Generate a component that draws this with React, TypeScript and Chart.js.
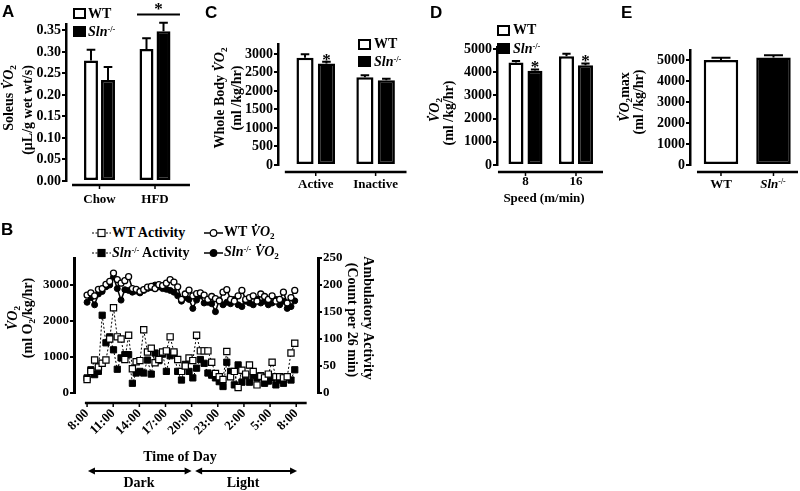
import React, { useEffect, useRef } from 'react';
import { Chart, registerables } from 'chart.js';
Chart.register(...registerables);

const SERIF = '"Liberation Serif", "Times New Roman", serif';
const SANS = '"Liberation Sans", Arial, sans-serif';

// ---------- Panel A : Soleus VO2 ----------
const aGroups = ['Chow', 'HFD'];
const aWT = [0.28, 0.307];
const aWTErr = [0.025, 0.025];
const aSln = [0.235, 0.348];
const aSlnErr = [0.03, 0.02];
const aYTicks = [0, 0.05, 0.1, 0.15, 0.2, 0.25, 0.3, 0.35];

// ---------- Panel C : Whole body VO2 ----------
const cGroups = ['Active', 'Inactive'];
const cWT = [2900, 2370];
const cWTErr = [90, 55];
const cSln = [2740, 2290];
const cSlnErr = [50, 40];
const cYTicks = [0, 500, 1000, 1500, 2000, 2500, 3000];

// ---------- Panel D : VO2 by speed ----------
const dGroups = ['8', '16'];
const dWT = [4420, 4690];
const dWTErr = [70, 110];
const dSln = [4065, 4300];
const dSlnErr = [55, 80];
const dYTicks = [0, 1000, 2000, 3000, 4000, 5000];

// ---------- Panel E : VO2 max ----------
const eGroups = ['WT', 'Sln-/-'];
const eValues = [5000, 5115];
const eErr = [110, 110];
const eYTicks = [0, 1000, 2000, 3000, 4000, 5000];

// ---------- Panel B : time course ----------
const bSampleMinutes = 26;
const bTickHours = [0, 3, 6, 9, 12, 15, 18, 21, 24];
const bTickLabels = ['8:00', '11:00', '14:00', '17:00', '20:00', '23:00', '2:00', '5:00', '8:00'];
const bLeftTicks = [0, 1000, 2000, 3000];
const bRightTicks = [0, 50, 100, 150, 200, 250];
const bWTVO2 = [2720, 2780, 2700, 2880, 2900, 3020, 3100, 3330, 3150, 3050, 3120, 3230, 2900, 2880, 2820, 2870,
  2940, 2960, 2900, 3010, 2980, 3050, 3150, 3080, 2950, 2600, 2750, 2860, 2700, 2760, 2780, 2720, 2600, 2680,
  2620, 2560, 2800, 2870, 2600, 2550, 2700, 2850, 2600, 2650, 2700, 2550, 2750, 2680, 2600, 2700, 2550, 2600,
  2800, 2500, 2650, 2850];
const bSlnVO2 = [2520, 2650, 2450, 2750, 2820, 2950, 3000, 3220, 2900, 2580, 2870, 2850, 2800, 2830, 2780, 2850,
  2900, 2930, 3000, 2950, 2900, 2880, 2850, 2800, 2700, 2550, 2650, 2600, 2350, 2580, 2700, 2500, 2520, 2480,
  2260, 2580, 2450, 2520, 2480, 2600, 2450, 2400, 2550, 2500, 2450, 2600, 2500, 2550, 2450, 2500, 2600, 2450,
  2550, 2350, 2400, 2560];
const bWTAct = [25, 40, 61, 48, 55, 61, 100, 158, 104, 100, 62, 107, 45, 58, 60, 117, 76, 83, 56, 62, 76, 78, 104,
  76, 62, 40, 50, 65, 60, 107, 78, 78, 78, 57, 36, 30, 25, 77, 30, 40, 10, 42, 35, 52, 40, 15, 31, 28, 35, 57, 30,
  30, 28, 30, 74, 92];
const bSlnAct = [28, 43, 34, 40, 144, 93, 104, 80, 44, 65, 71, 71, 18, 37, 40, 37, 61, 35, 74, 60, 72, 40, 69, 74,
  40, 24, 53, 40, 28, 46, 62, 55, 37, 33, 28, 21, 12, 57, 40, 15, 52, 20, 32, 20, 32, 28, 32, 18, 22, 28, 15, 24,
  18, 30, 24, 43];

const tickFont = { family: SERIF, size: 13, weight: 'bold' as const };
const yTickFont = { family: SERIF, size: 14, weight: 'bold' as const };

function makeDeco(p: any) {
  return {
    id: 'deco',
    afterDatasetsDraw(chart: any) {
      const ctx = chart.ctx;
      const xs = chart.scales.x;
      const ys = chart.scales.y;
      const area = chart.chartArea;
      ctx.save();
      ctx.strokeStyle = '#000';
      ctx.fillStyle = '#000';
      const tops: number[][] = [];
      p.datasets.forEach((d: any, di: number) => {
        const meta = chart.getDatasetMeta(di);
        tops[di] = [];
        meta.data.forEach((el: any, j: number) => {
          const pr = el.getProps(['x', 'y', 'width'], true);
          const yTop = ys.getPixelForValue(d.values[j] + d.errors[j]);
          tops[di][j] = yTop;
          const cap = pr.width * p.capRatio;
          ctx.lineWidth = 2;
          ctx.beginPath();
          ctx.moveTo(pr.x, pr.y);
          ctx.lineTo(pr.x, yTop);
          ctx.moveTo(pr.x - cap / 2, yTop);
          ctx.lineTo(pr.x + cap / 2, yTop);
          ctx.stroke();
        });
      });
      ctx.font = `bold 17px ${SERIF}`;
      ctx.textAlign = 'center';
      ctx.textBaseline = 'alphabetic';
      (p.stars || []).forEach((s: any) => {
        const el = chart.getDatasetMeta(s.ds).data[s.idx];
        ctx.fillText('*', el.x, tops[s.ds][s.idx] + 3);
      });
      if (p.sig) {
        const y = ys.getPixelForValue(p.sig.y);
        const x1 = xs.getPixelForValue(p.sig.from);
        const x2 = xs.getPixelForValue(p.sig.to);
        ctx.lineWidth = 2;
        ctx.beginPath();
        ctx.moveTo(x1, y);
        ctx.lineTo(x2, y);
        ctx.stroke();
        ctx.fillText('*', (x1 + x2) / 2, y - 1);
      }
      const ly = area.bottom + p.xLine.offset;
      ctx.lineWidth = 2.5;
      ctx.beginPath();
      ctx.moveTo(xs.getPixelForValue(p.xLine.from), ly);
      ctx.lineTo(xs.getPixelForValue(p.xLine.to), ly);
      ctx.stroke();
      ctx.lineWidth = 1.5;
      p.groups.forEach((_: any, i: number) => {
        const px = xs.getPixelForValue(i + 1);
        ctx.beginPath();
        ctx.moveTo(px, ly);
        ctx.lineTo(px, ly + 4);
        ctx.stroke();
      });
      ctx.restore();
    },
  };
}

function makeBarChart(canvas: HTMLCanvasElement, p: any) {
  const [cl, ct, cw, ch] = p.canvas;
  const [al, at, ar, ab] = p.area;
  const padding = {
    left: al - cl - p.yW,
    top: at - ct,
    right: cl + cw - ar,
    bottom: ct + ch - ab - p.xH,
  };
  return new Chart(canvas, {
    type: 'bar',
    data: {
      datasets: p.datasets.map((d: any) => ({
        data: d.values.map((v: number, i: number) => ({ x: i + 1, y: v })),
        backgroundColor: d.fill,
        borderColor: '#000',
        borderWidth: 2.5,
        borderSkipped: false,
        categoryPercentage: p.catPct,
        barPercentage: p.barPct,
      })),
    },
    options: {
      responsive: false,
      maintainAspectRatio: false,
      animation: false,
      layout: { padding },
      plugins: { legend: { display: false }, tooltip: { enabled: false } },
      scales: {
        x: {
          type: 'linear',
          min: p.xMin,
          max: p.xMax,
          offset: false,
          afterBuildTicks: (s: any) => {
            s.ticks = p.groups.map((_: any, i: number) => ({ value: i + 1 }));
          },
          afterFit: (s: any) => {
            s.height = p.xH;
          },
          ticks: {
            display: p.showXLabels,
            autoSkip: false,
            maxRotation: 0,
            minRotation: 0,
            padding: p.labelPad,
            color: '#000',
            font: tickFont,
            callback: (_v: any, i: number) => p.groups[i],
          },
          grid: { display: false, drawTicks: false, offset: false },
          border: { display: false },
        },
        y: {
          min: 0,
          max: p.yMax,
          afterBuildTicks: (s: any) => {
            s.ticks = p.yTicks.map((v: number) => ({ value: v }));
          },
          afterFit: (s: any) => {
            s.width = p.yW;
          },
          ticks: {
            padding: 1,
            color: '#000',
            font: yTickFont,
            callback: (v: any) => p.yFmt(v),
          },
          grid: { display: true, drawOnChartArea: false, drawTicks: true, tickLength: 4, lineWidth: 2, color: '#000' },
          border: { display: true, width: 2.5, color: '#000' },
        },
      },
    },
    plugins: [makeDeco(p)],
  } as any);
}

const bDeco = {
  id: 'bdeco',
  afterDatasetsDraw(chart: any) {
    const ctx = chart.ctx;
    const xs = chart.scales.x;
    const area = chart.chartArea;
    ctx.save();
    ctx.strokeStyle = '#000';
    ctx.fillStyle = '#000';
    const ly = area.bottom + 10;
    ctx.lineWidth = 2.5;
    ctx.beginPath();
    ctx.moveTo(xs.getPixelForValue(-0.25), ly);
    ctx.lineTo(xs.getPixelForValue(25.2), ly);
    ctx.stroke();
    ctx.lineWidth = 1.5;
    bTickHours.forEach((h) => {
      const px = xs.getPixelForValue(h);
      ctx.beginPath();
      ctx.moveTo(px, ly);
      ctx.lineTo(px, ly + 4);
      ctx.stroke();
    });
    const arrow = (h1: number, h2: number, y: number) => {
      const x1 = xs.getPixelForValue(h1);
      const x2 = xs.getPixelForValue(h2);
      ctx.lineWidth = 1.8;
      ctx.beginPath();
      ctx.moveTo(x1 + 4, y);
      ctx.lineTo(x2 - 4, y);
      ctx.stroke();
      ctx.beginPath();
      ctx.moveTo(x1, y);
      ctx.lineTo(x1 + 7, y - 3.5);
      ctx.lineTo(x1 + 7, y + 3.5);
      ctx.closePath();
      ctx.fill();
      ctx.beginPath();
      ctx.moveTo(x2, y);
      ctx.lineTo(x2 - 7, y - 3.5);
      ctx.lineTo(x2 - 7, y + 3.5);
      ctx.closePath();
      ctx.fill();
    };
    const ay = area.bottom + 78;
    arrow(0.1, 12.0, ay);
    arrow(12.4, 24.1, ay);
    ctx.restore();
  },
};

function makeTimeChart(canvas: HTMLCanvasElement) {
  const hours = bWTVO2.map((_, i) => (i * bSampleMinutes) / 60);
  const pts = (arr: number[]) => arr.map((v, i) => ({ x: hours[i], y: v }));
  const canvasRect = [0, 240, 420, 251];
  const area = [74, 258, 318, 393];
  const yW = 40;
  const y2W = 30;
  const xH = 60;
  const padding = {
    left: area[0] - canvasRect[0] - yW,
    top: area[1] - canvasRect[1],
    right: canvasRect[0] + canvasRect[2] - area[2] - y2W,
    bottom: canvasRect[1] + canvasRect[3] - area[3] - xH,
  };
  return new Chart(canvas, {
    type: 'line',
    data: {
      datasets: [
        {
          label: 'WT VO2', data: pts(bWTVO2), yAxisID: 'y', borderColor: '#000', borderWidth: 1.5,
          pointStyle: 'circle', pointRadius: 3, pointBackgroundColor: '#fff', pointBorderColor: '#000', pointBorderWidth: 1.3,
        },
        {
          label: 'Sln VO2', data: pts(bSlnVO2), yAxisID: 'y', borderColor: '#000', borderWidth: 1.5,
          pointStyle: 'circle', pointRadius: 3, pointBackgroundColor: '#000', pointBorderColor: '#000', pointBorderWidth: 1,
        },
        {
          label: 'WT Activity', data: pts(bWTAct), yAxisID: 'y2', borderColor: '#000', borderWidth: 1, borderDash: [2, 2],
          pointStyle: 'rect', pointRadius: 4.4, pointBackgroundColor: '#fff', pointBorderColor: '#000', pointBorderWidth: 1.2,
        },
        {
          label: 'Sln Activity', data: pts(bSlnAct), yAxisID: 'y2', borderColor: '#000', borderWidth: 1, borderDash: [2, 2],
          pointStyle: 'rect', pointRadius: 4.4, pointBackgroundColor: '#000', pointBorderColor: '#000', pointBorderWidth: 1,
        },
      ],
    },
    options: {
      responsive: false,
      maintainAspectRatio: false,
      animation: false,
      layout: { padding },
      plugins: { legend: { display: false }, tooltip: { enabled: false } },
      scales: {
        x: {
          type: 'linear',
          min: -1.5,
          max: 26.5,
          afterBuildTicks: (s: any) => {
            s.ticks = bTickHours.map((v) => ({ value: v }));
          },
          afterFit: (s: any) => {
            s.height = xH;
          },
          ticks: {
            autoSkip: false,
            maxRotation: 45,
            minRotation: 45,
            padding: 13,
            color: '#000',
            font: tickFont,
            callback: (_v: any, i: number) => bTickLabels[i],
          },
          grid: { display: false, drawTicks: false },
          border: { display: false },
        },
        y: {
          position: 'left',
          min: 0,
          max: 3750,
          afterBuildTicks: (s: any) => {
            s.ticks = bLeftTicks.map((v) => ({ value: v }));
          },
          afterFit: (s: any) => {
            s.width = yW;
          },
          ticks: { padding: 1, color: '#000', font: tickFont, callback: (v: any) => String(v) },
          grid: { display: true, drawOnChartArea: false, drawTicks: true, tickLength: 4, lineWidth: 2, color: '#000' },
          border: { display: true, width: 3, color: '#000' },
        },
        y2: {
          position: 'right',
          min: 0,
          max: 250,
          afterBuildTicks: (s: any) => {
            s.ticks = bRightTicks.map((v) => ({ value: v }));
          },
          afterFit: (s: any) => {
            s.width = y2W;
          },
          ticks: { padding: 1, color: '#000', font: tickFont, callback: (v: any) => String(v) },
          grid: { display: true, drawOnChartArea: false, drawTicks: true, tickLength: 4, lineWidth: 2, color: '#000' },
          border: { display: true, width: 3, color: '#000' },
        },
      },
    },
    plugins: [bDeco],
  } as any);
}

const panelA = {
  canvas: [0, 0, 200, 210], area: [66, 24, 190, 181], yW: 40, xH: 28, labelPad: 11, showXLabels: true,
  xMin: 0.3964, xMax: 2.6306, yMax: 0.365, yTicks: aYTicks, yFmt: (v: number) => v.toFixed(2), groups: aGroups,
  datasets: [
    { values: aWT, errors: aWTErr, fill: '#fff' },
    { values: aSln, errors: aSlnErr, fill: '#000' },
  ],
  catPct: 0.613, barPct: 0.82, capRatio: 0.62,
  xLine: { offset: 4, from: 0.505, to: 2.63 },
  sig: { from: 1.676, to: 2.45, y: 0.387 },
  stars: [],
};
const panelC = {
  canvas: [200, 0, 210, 210], area: [278, 44, 410, 165], yW: 40, xH: 28, labelPad: 12, showXLabels: true,
  xMin: 0.37, xMax: 2.516, yMax: 3270, yTicks: cYTicks, yFmt: (v: number) => String(v), groups: cGroups,
  datasets: [
    { values: cWT, errors: cWTErr, fill: '#fff' },
    { values: cSln, errors: cSlnErr, fill: '#000' },
  ],
  catPct: 0.715, barPct: 0.8, capRatio: 0.5,
  xLine: { offset: 7, from: 0.484, to: 2.516 },
  stars: [{ ds: 1, idx: 0 }],
};
const panelD = {
  canvas: [410, 0, 200, 210], area: [497, 47, 603, 165], yW: 40, xH: 28, labelPad: 9, showXLabels: true,
  xMin: 0.436, xMax: 2.535, yMax: 5090, yTicks: dYTicks, yFmt: (v: number) => String(v), groups: dGroups,
  datasets: [
    { values: dWT, errors: dWTErr, fill: '#fff' },
    { values: dSln, errors: dSlnErr, fill: '#000' },
  ],
  catPct: 0.752, barPct: 0.79, capRatio: 0.55,
  xLine: { offset: 7, from: 0.455, to: 2.535 },
  stars: [{ ds: 1, idx: 0 }, { ds: 1, idx: 1 }],
};
const panelE = {
  canvas: [600, 0, 200, 210], area: [690, 50, 798, 165], yW: 40, xH: 28, labelPad: 9, showXLabels: false,
  xMin: 0.41, xMax: 2.467, yMax: 5475, yTicks: eYTicks, yFmt: (v: number) => String(v), groups: eGroups,
  datasets: [{ values: eValues, errors: eErr, fill: ['#fff', '#000'] }],
  catPct: 0.73, barPct: 0.9, capRatio: 0.55,
  xLine: { offset: 7, from: 0.543, to: 2.467 },
  stars: [],
};

const Txt = ({ x, y, rot = 0, size = 14, left = false, family = SERIF, children }: any) => (
  <div
    style={{
      position: 'absolute',
      left: x,
      top: y,
      transform: `translate(${left ? '0' : '-50%'}, -50%) rotate(${rot}deg)`,
      fontSize: size,
      fontFamily: family,
      fontWeight: 'bold',
      whiteSpace: 'nowrap',
      lineHeight: 1,
    }}
  >
    {children}
  </div>
);

const VO2 = () => (
  <span>
    <i>V&#x307;O</i>
    <sub style={{ fontSize: '0.65em', verticalAlign: '-0.25em' }}>2</sub>
  </span>
);
const Sln = () => (
  <span>
    <i>Sln</i>
    <sup style={{ fontSize: '0.6em', verticalAlign: '0.5em' }}>-/-</sup>
  </span>
);

const Box = ({ x, y, filled }: any) => (
  <div
    style={{
      position: 'absolute', left: x, top: y, width: 13, height: 11, boxSizing: 'border-box',
      border: '2.5px solid #000', background: filled ? '#000' : '#fff',
    }}
  />
);

const Marker = ({ x, y, shape, filled, dashed }: any) => (
  <svg style={{ position: 'absolute', left: x, top: y - 5 }} width={19} height={10}>
    <line x1={0} y1={5} x2={19} y2={5} stroke="#000" strokeWidth={dashed ? 1 : 1.5} strokeDasharray={dashed ? '2,1.5' : undefined} />
    {shape === 'rect' ? (
      <rect x={6} y={1.5} width={7} height={7} fill={filled ? '#000' : '#fff'} stroke="#000" strokeWidth={1.2} />
    ) : (
      <circle cx={9.5} cy={5} r={3.3} fill={filled ? '#000' : '#fff'} stroke="#000" strokeWidth={1.2} />
    )}
  </svg>
);

const cv = (r: number[]) => ({ position: 'absolute' as const, left: r[0], top: r[1], width: r[2], height: r[3] });

export default function App() {
  const refA = useRef<HTMLCanvasElement>(null);
  const refB = useRef<HTMLCanvasElement>(null);
  const refC = useRef<HTMLCanvasElement>(null);
  const refD = useRef<HTMLCanvasElement>(null);
  const refE = useRef<HTMLCanvasElement>(null);

  useEffect(() => {
    const charts = [
      makeBarChart(refA.current!, panelA),
      makeBarChart(refC.current!, panelC),
      makeBarChart(refD.current!, panelD),
      makeBarChart(refE.current!, panelE),
      makeTimeChart(refB.current!),
    ];
    return () => charts.forEach((c) => c.destroy());
  }, []);

  return (
    <div style={{ position: 'fixed', left: 0, top: 0, width: 800, height: 491, background: '#fff', overflow: 'hidden', color: '#000' }}>
      <canvas ref={refA} width={200} height={210} style={cv(panelA.canvas)} />
      <canvas ref={refC} width={210} height={210} style={cv(panelC.canvas)} />
      <canvas ref={refD} width={200} height={210} style={cv(panelD.canvas)} />
      <canvas ref={refE} width={200} height={210} style={cv(panelE.canvas)} />
      <canvas ref={refB} width={420} height={251} style={cv([0, 240, 420, 251])} />

      {/* panel letters */}
      <Txt x={2} y={11} left size={17} family={SANS}>A</Txt>
      <Txt x={1} y={229} left size={17} family={SANS}>B</Txt>
      <Txt x={205} y={12} left size={17} family={SANS}>C</Txt>
      <Txt x={430} y={12} left size={17} family={SANS}>D</Txt>
      <Txt x={621} y={12} left size={17} family={SANS}>E</Txt>

      {/* Panel A */}
      <Box x={73} y={8} />
      <Txt x={88} y={14} left>WT</Txt>
      <Box x={73} y={26} filled />
      <Txt x={88} y={32} left><Sln /></Txt>
      <Txt x={10} y={98} rot={-90}>Soleus <VO2 /></Txt>
      <Txt x={28} y={110} rot={-90}>(μL/g wet wt/s)</Txt>

      {/* Panel C */}
      <Box x={358} y={39} />
      <Txt x={374} y={44} left>WT</Txt>
      <Box x={358} y={56} filled />
      <Txt x={374} y={62} left><Sln /></Txt>
      <Txt x={221} y={98} rot={-90}>Whole Body <VO2 /></Txt>
      <Txt x={237} y={98} rot={-90}>(ml /kg/hr)</Txt>

      {/* Panel D */}
      <Box x={497} y={25} />
      <Txt x={513} y={30} left>WT</Txt>
      <Box x={497} y={43} filled />
      <Txt x={513} y={49} left><Sln /></Txt>
      <Txt x={436} y={110} rot={-90}><VO2 /></Txt>
      <Txt x={449} y={113} rot={-90}>(ml /kg/hr)</Txt>
      <Txt x={544} y={197} size={13}>Speed (m/min)</Txt>

      {/* Panel E */}
      <Txt x={626} y={97} rot={-90}><VO2 />max</Txt>
      <Txt x={639} y={102} rot={-90}>(ml /kg/hr)</Txt>
      <Txt x={721} y={183} size={13}>WT</Txt>
      <Txt x={773} y={183} size={13}><Sln /></Txt>

      {/* Panel B legend */}
      <Marker x={92} y={233} shape="rect" dashed />
      <Txt x={112} y={233} left>WT Activity</Txt>
      <Marker x={204} y={233} shape="circle" />
      <Txt x={224} y={233} left>WT <VO2 /></Txt>
      <Marker x={92} y={253} shape="rect" dashed filled />
      <Txt x={112} y={253} left><Sln /> Activity</Txt>
      <Marker x={204} y={253} shape="circle" filled />
      <Txt x={224} y={253} left><Sln /> <VO2 /></Txt>

      {/* Panel B axis titles */}
      <Txt x={14} y={318} rot={-90}><VO2 /></Txt>
      <Txt x={29} y={318} rot={-90}>(ml O<sub style={{ fontSize: '0.65em', verticalAlign: '-0.25em' }}>2</sub>/kg/hr)</Txt>
      <Txt x={368} y={318} rot={90}>Ambulatory Activity</Txt>
      <Txt x={352} y={320} rot={90}>(Count per 26 min)</Txt>
      <Txt x={180} y={457}>Time of Day</Txt>
      <Txt x={139} y={483}>Dark</Txt>
      <Txt x={243} y={483}>Light</Txt>
    </div>
  );
}
